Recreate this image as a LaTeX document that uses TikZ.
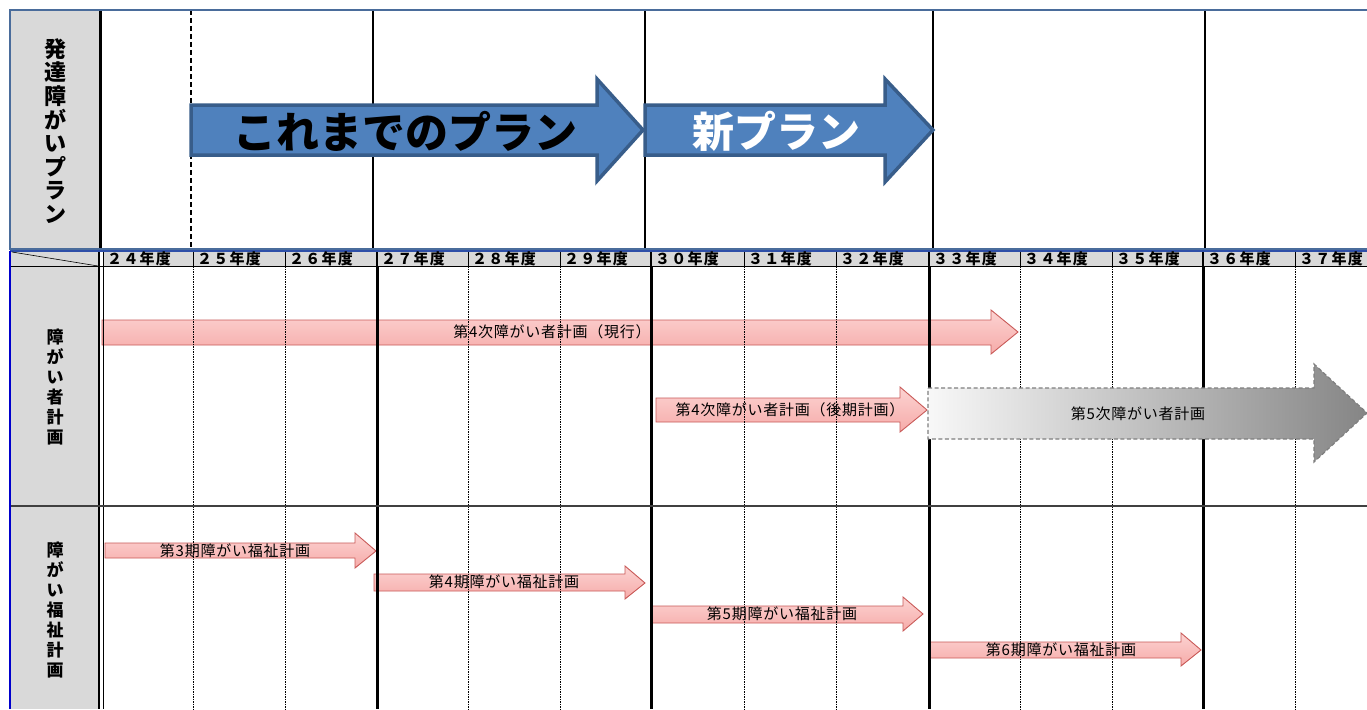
\documentclass[tikz,border=0pt]{standalone}
\usepackage{fontspec}
\setmainfont{Noto Sans CJK JP}
\newfontfamily\lsfont[LetterSpace=5]{Noto Sans CJK JP}
\newfontfamily\yrfont[LetterSpace=8]{Noto Sans CJK JP}
\definecolor{hdrgray}{HTML}{D9D9D9}
\definecolor{panelborder}{HTML}{4A6C9B}
\definecolor{planblue}{HTML}{4F81BD}
\definecolor{planedge}{HTML}{385D8A}
\definecolor{pinktop}{HTML}{FCD3D2}
\definecolor{pinkbot}{HTML}{F6ABA9}
\definecolor{pinkedge}{HTML}{C95A58}
\definecolor{graylt}{HTML}{F8F8F8}
\definecolor{graydk}{HTML}{858585}
\definecolor{grayedge}{HTML}{7F7F7F}
\definecolor{leftblue}{HTML}{0000CC}
\definecolor{rowblue}{HTML}{2E4FA8}
\tikzset{
  gridthick/.style={line width=3pt, black},
  gridthin/.style={line width=0.8pt, black, dash pattern=on 1.5pt off 1pt},
  planarrow/.style={fill=planblue, draw=planedge, line width=3.5pt, line join=miter},
  pinkarrow/.style={top color=pinktop, bottom color=pinkbot, draw=pinkedge, line width=0.9pt},
  grayarrow/.style={left color=graylt, right color=graydk, draw=grayedge, line width=1.2pt, dash pattern=on 4pt off 2.5pt},
  arrowlabel/.style={font=\lsfont\fontsize{15}{15}\selectfont, inner sep=0pt},
  yearlabel/.style={font=\yrfont\bfseries\fontsize{15}{15}\selectfont, anchor=west, inner sep=0pt},
  sidelabel/.style={font=\bfseries\fontsize{17}{20}\selectfont, align=center, inner sep=0pt},
  planlabel/.style={font=\bfseries\fontsize{43}{43}\selectfont, inner sep=0pt},
}
\begin{document}
\begin{tikzpicture}[x=1pt,y=-1pt]
\useasboundingbox (0,0) rectangle (1367,709);
\clip (0,0) rectangle (1367,709);
\fill[white] (0,0) rectangle (1367,709);
% ---------- top panel ----------
\fill[hdrgray] (10,10) rectangle (100,249);
\draw[gridthick] (100,10) -- (100,249);
\draw[line width=2pt, dash pattern=on 5pt off 3pt] (191,10) -- (191,249);
\foreach \xx in {373,645,933,1205} \draw[gridthick, line width=2.5pt] (\xx,10) -- (\xx,249);
\draw[draw=panelborder, line width=2pt] (10,10) rectangle (1380,249);
\node[font=\bfseries\fontsize{22}{23.6}\selectfont, align=center, inner sep=0pt] (plantitle) at (55,131) {発\\達\\障\\が\\い\\プ\\ラ\\ン};
% blue plan arrows
\path[planarrow] (191,105) -- (597,105) -- (597,79) -- (643,130) -- (597,181) -- (597,155) -- (191,155) -- cycle;
\path[planarrow] (645,105) -- (885,105) -- (885,79) -- (933,130) -- (885,182) -- (885,155) -- (645,155) -- cycle;
\node[planlabel] (oldplan) at (405,131) {これまでのプラン};
\node[planlabel, text=white, font=\bfseries\fontsize{42}{42}\selectfont] (newplan) at (776,131) {新プラン};
% ---------- lower table ----------
\fill[hdrgray] (10,251) rectangle (100,709);
\fill[hdrgray] (103,251) rectangle (1367,266);
% pink arrows (below grid lines)
\path[pinkarrow] (102,320) -- (991,320) -- (991,310) -- (1018,332) -- (991,354) -- (991,345) -- (102,345) -- cycle;
\path[pinkarrow] (656,398) -- (900,398) -- (900,387) -- (927,410) -- (900,432) -- (900,422) -- (656,422) -- cycle;
\path[pinkarrow] (105,543) -- (355,543) -- (355,533) -- (376,551) -- (355,568) -- (355,558) -- (105,558) -- cycle;
\path[pinkarrow] (374,574) -- (625,574) -- (625,566) -- (645,583) -- (625,599) -- (625,591) -- (374,591) -- cycle;
\path[pinkarrow] (652,606) -- (903,606) -- (903,597) -- (923,614) -- (903,631) -- (903,623) -- (652,623) -- cycle;
\path[pinkarrow] (930,642) -- (1181,642) -- (1181,633) -- (1201,650) -- (1181,666) -- (1181,658) -- (930,658) -- cycle;
% grid lines
\foreach \xx in {193,285,468,560,744,836,1020,1112,1295} {
  \draw[line width=0.8pt] (\xx,251) -- (\xx,266);
  \draw[gridthin] (\xx,266) -- (\xx,709);
}
\foreach \xx in {377,651,929,1203} {
  \draw[line width=1.6pt] (\xx,251) -- (\xx,266);
  \draw[gridthick] (\xx,266) -- (\xx,709);
}
\draw[line width=2.5pt] (99,251) -- (99,709);
\draw[line width=1.3pt] (103.5,251) -- (103.5,709);
\draw[line width=0.8pt] (10,266.5) -- (1367,266.5);
\draw[line width=1.2pt, black!75] (10,506) -- (1367,506);
\draw[line width=1.2pt, rowblue] (10,251) -- (1367,251);
\draw[line width=2.2pt, leftblue] (10,251) -- (10,709);
\draw[line width=0.6pt] (12,252) -- (98,266);
% gray arrow (above grid)
\path[grayarrow] (928,388) -- (1314,388) -- (1314,364) -- (1367,413) -- (1314,462) -- (1314,439) -- (928,439) -- cycle;
% year labels
\foreach \xx/\lab/\nm in {103/２４年度/y24, 193/２５年度/y25, 285/２６年度/y26, 377/２７年度/y27, 468/２８年度/y28, 560/２９年度/y29, 651/３０年度/y30, 744/３１年度/y31, 836/３２年度/y32, 929/３３年度/y33, 1020/３４年度/y34, 1112/３５年度/y35, 1203/３６年度/y36, 1295/３７年度/y37}
  \node[yearlabel] (\nm) at (\xx+4,259) {\lab};
% side labels
\node[sidelabel] (shogaisha) at (55,387) {障\\が\\い\\者\\計\\画};
\node[sidelabel] (fukushi) at (55,610) {障\\が\\い\\福\\祉\\計\\画};
% arrow labels
\node[arrowlabel] (plan4) at (552,332) {第4次障がい者計画（現行）};
\node[arrowlabel] (plan4b) at (790,410) {第4次障がい者計画（後期計画）};
\node[arrowlabel] (plan5) at (1138,414) {第5次障がい者計画};
\node[arrowlabel] (wel3) at (235,551) {第3期障がい福祉計画};
\node[arrowlabel] (wel4) at (504,582) {第4期障がい福祉計画};
\node[arrowlabel] (wel5) at (782,614) {第5期障がい福祉計画};
\node[arrowlabel] (wel6) at (1061,650) {第6期障がい福祉計画};
\end{tikzpicture}
\end{document}
